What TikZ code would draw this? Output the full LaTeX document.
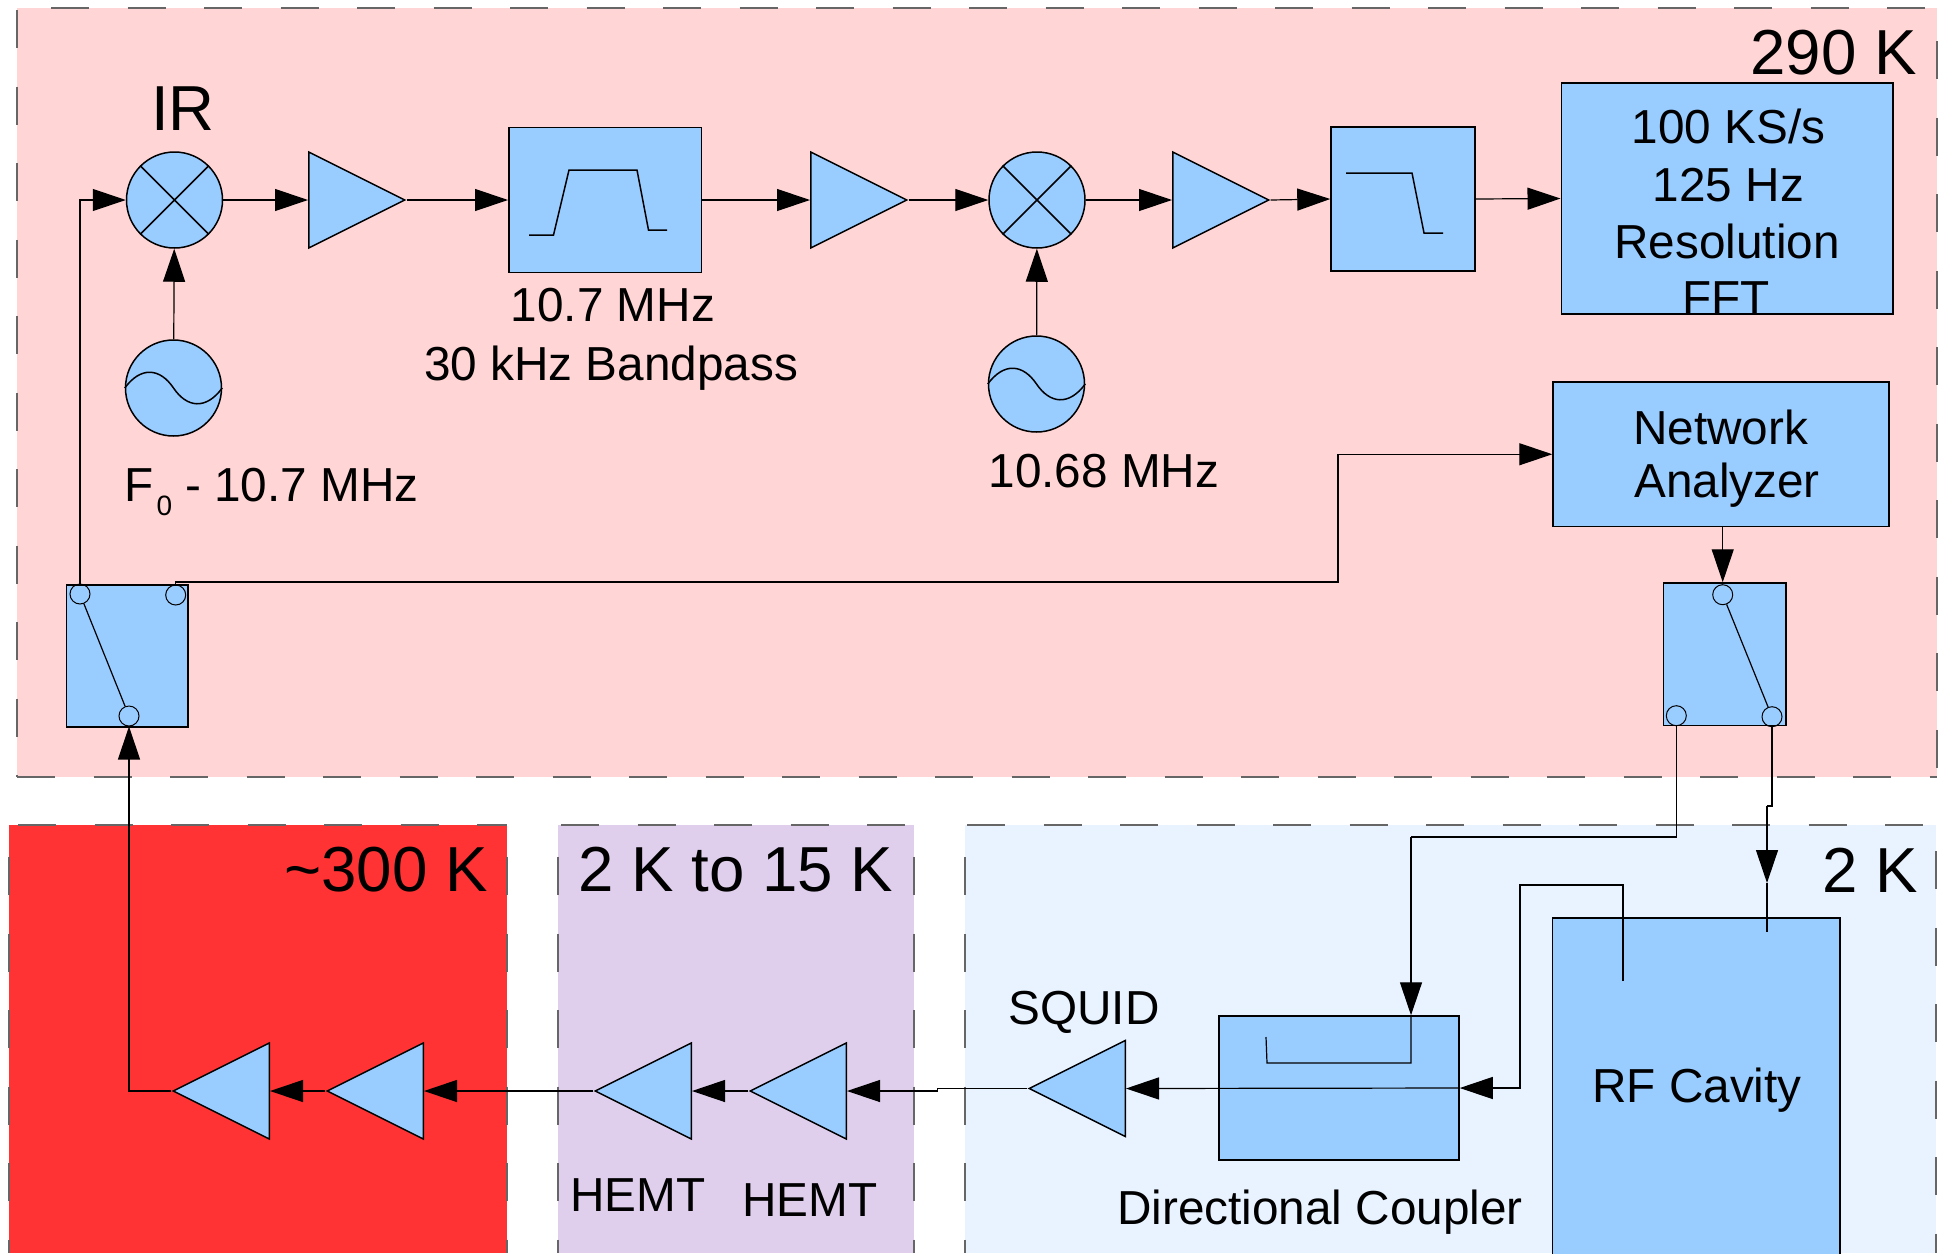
\documentclass[tikz,border=0pt]{standalone}
\usepackage{fontspec}
\setmainfont{Liberation Sans}
\usetikzlibrary{arrows.meta,shapes.geometric}
\definecolor{blockblue}{HTML}{99CCFF}
\definecolor{roomzone}{HTML}{FFD5D5}
\definecolor{hotzone}{HTML}{FF3333}
\definecolor{warmzone}{HTML}{DFCFEC}
\definecolor{coldzone}{HTML}{E9F3FF}
\tikzset{
  zoneline/.style={draw=black!60,line width=0.75pt,dash pattern=on 19pt off 19.25pt},
  block/.style={draw,fill=blockblue,line width=0.75pt,inner sep=0pt},
  mixer/.style={circle,draw,fill=blockblue,line width=0.75pt,inner sep=0pt,minimum size=48pt},
  amp/.style={isosceles triangle,isosceles triangle stretches,draw,fill=blockblue,line width=0.75pt,
    inner sep=0pt,minimum width=48pt,minimum height=48pt,anchor=lower side},
  ampleft/.style={amp,shape border rotate=180},
  pin/.style={circle,draw,line width=0.5pt,inner sep=0pt,minimum size=10pt},
  wire/.style={line width=0.6pt},
  sig/.style={wire,-{Triangle[length=16.5pt,width=11pt]}},
  lbl/.style={font=\fontsize{23.85}{28}\selectfont,inner sep=0pt},
  biglbl/.style={font=\fontsize{31.8}{38}\selectfont,inner sep=0pt}
}
\begin{document}
\begin{tikzpicture}[x=0.5pt,y=-0.5pt]
        \useasboundingbox (0,0) rectangle (1942,1253);
        \clip (0,0) rectangle (1942,1253);

        % temperature zones
        \fill[roomzone] (17,8) rectangle (1937,777);
        \fill[hotzone] (9,825) rectangle (507,1253);
        \fill[warmzone] (558,825) rectangle (914,1253);
        \fill[coldzone] (965,825) rectangle (1936,1253);
        \draw[zoneline] (17,10) -- (17,777) (51,8) -- (1937,8) (17,777) -- (1937,777) (1937,41) -- (1937,777);
        \draw[zoneline] (18,825) -- (507,825) (9,857) -- (9,1253) (507,857) -- (507,1253);
        \draw[zoneline] (558,857) -- (558,1253) (561,825) -- (914,825) (914,857) -- (914,1253);
        \draw[zoneline] (965,857) -- (965,1253) (967,825) -- (1936,825) (1936,851) -- (1936,1253);

        % top chain
        \node[mixer] (mixIR) at (174.5,200) {};
        \node[amp] (ampA) at (308,200) {};
        \node[block,minimum width=96.25pt,minimum height=72.5pt] (bandpass) at (605,200) {};
        \node[amp] (ampB) at (810,200) {};
        \node[mixer] (mixIF) at (1037,200) {};
        \node[amp] (ampC) at (1172,200) {};
        \node[block,minimum width=72pt,minimum height=72pt] (lowpass) at (1403,199) {};
        \node[block,minimum width=165.75pt,minimum height=115.5pt] (fft) at (1727,198.5) {};
        \node[mixer] (oscIR) at (173.5,388) {};
        \node[mixer] (oscIF) at (1036.5,384) {};
        \node[block,minimum width=168pt,minimum height=72.25pt] (netan) at (1721,454.25) {};

        % switches
        \node[block,minimum width=60.75pt,minimum height=71pt] (swA) at (127.25,656) {};
        \node[pin] (swAleft) at (80,594) {};
        \node[pin] (swAright) at (175.7,595) {};
        \node[pin] (swAin) at (129,716) {};
        \node[block,minimum width=61.25pt,minimum height=71.25pt] (swB) at (1724.5,654.25) {};
        \node[pin] (swBin) at (1722.7,594.7) {};
        \node[pin] (swBleft) at (1676.3,715.7) {};
        \node[pin] (swBright) at (1772,716.7) {};

        % bottom chain
        \node[block,minimum width=120pt,minimum height=72pt] (coupler) at (1339,1088) {};
        \node[block,minimum width=143.75pt,minimum height=200pt,anchor=north] (cavity) at (1696.25,917) {};
        \node[ampleft] (squid) at (1126,1088.5) {};
        \node[ampleft] (hemtB) at (847,1091) {};
        \node[ampleft] (hemtA) at (692,1091) {};
        \node[ampleft] (ampE) at (424,1091) {};
        \node[ampleft] (ampD) at (270,1091) {};

        % inside the blocks
        \draw[line width=0.75pt] (mixIR.45) -- (mixIR.225) (mixIR.135) -- (mixIR.315);
        \draw[line width=0.75pt] (mixIF.45) -- (mixIF.225) (mixIF.135) -- (mixIF.315);
        \draw[line width=0.75pt] (oscIR.west) .. controls (141,366) and (160,368) .. (173.5,388) .. controls (187,408) and (206,410) .. (oscIR.east);
        \draw[line width=0.75pt] (oscIF.west) .. controls (1004,362) and (1023,364) .. (1036.5,384) .. controls (1050,404) and (1069,406) .. (oscIF.east);
        \draw[line width=0.75pt] (529,235) -- (553.5,235) -- (569,170) -- (637,170) -- (648.5,230) -- (667,230);
        \draw[line width=0.75pt] (1346,173) -- (1412,173) -- (1424,233) -- (1443,233);
        \draw[wire] (swAleft) -- (swAin);
        \draw[wire] (swBin) -- (swBright);

        % connectors
        \draw[sig] (oscIR) -- (mixIR);
        \draw[sig] (oscIF) -- (mixIF);
        \draw[sig] (swAleft.north) |- (mixIR.west);
        \draw[sig] (mixIR.east) -- (ampA.lower side);
        \draw[sig] (ampA.apex) -- (bandpass.west);
        \draw[sig] (bandpass.east) -- (ampB.lower side);
        \draw[sig] (ampB.apex) -- (mixIF.west);
        \draw[sig] (mixIF.east) -- (ampC.lower side);
        \draw[sig] (ampC.apex) -- (lowpass.west);
        \draw[sig] (lowpass.east) -- (fft.west);
        \coordinate (netjog) at (1338,582);
        \draw[sig] (swAright.north) |- (netjog) |- (netan.west);
        \draw[sig] (netan.south -| swBin) -- (swB.north -| swBin);
        \draw[sig] (ampD.apex) -| (swAin.south);
        \draw[sig] (ampE.apex) -- (ampD.lower side);
        \draw[sig] (hemtA.apex) -- (ampE.lower side);
        \draw[sig] (hemtB.apex) -- (hemtA.lower side);
        \coordinate (squidjog) at (937.5,1091);
        \draw[sig] (squid.apex) -| (squidjog) -- (hemtB.lower side);
        \draw[sig] (coupler.east) -- (squid.lower side);

        \coordinate (feedjog) at (1411,837);
        \draw[wire] (swBleft.south) |- (feedjog);
        \draw[sig] (feedjog) -- (coupler.north -| feedjog);
        \coordinate (hookend) at (1411,1063);
        \coordinate (hooktip) at (1266,1037);
        \draw[wire] (coupler.north -| feedjog) -- (hookend) -- (1267,1063) -- (hooktip);

        \coordinate (probeA) at (1623,981);
        \coordinate (probeB) at (1767,932);
        \coordinate (loopjog) at (1520,885);
        \draw[sig] (probeA) |- (loopjog) |- (coupler.east);
        \coordinate (drivejog) at (1767,806);
        \coordinate (drivein) at (1767,883);
        \draw[wire] (swBright.south) |- (drivejog);
        \draw[sig] (drivejog) -- (drivein);
        \draw[wire] (drivein) -- (probeB);

        % labels
        \node[biglbl,anchor=east] (tempRoom) at (1917,53) {290 K};
        \node[biglbl] (tempHot) at (386,870) {\textasciitilde300 K};
        \node[biglbl] (tempWarm) at (736,870) {2 K to 15 K};
        \node[biglbl] (tempCold) at (1870,870) {2 K};
        \node[biglbl] (labIR) at (183,109) {IR};
        \node[lbl] (labBandA) at (613,305) {10.7 MHz};
        \node[lbl] (labBandB) at (611,368) {30 kHz Bandpass};
        \node[lbl,anchor=base west] (labLO) at (124,501) {F\kern1.5pt\raisebox{-7pt}{\fontsize{14}{14}\selectfont 0} - 10.7 MHz};
        \node[lbl] (labIF) at (1104,471) {10.68 MHz};
        \node[lbl] (labFFTa) at (1728.5,126) {100 KS/s};
        \node[lbl] (labFFTb) at (1728.5,185) {125 Hz};
        \node[lbl] (labFFTc) at (1727,241) {Resolution};
        \node[lbl] (labFFTd) at (1726,298) {FFT};
        \node[lbl] (labNetA) at (1720.5,427) {Network};
        \node[lbl] (labNetB) at (1727,485) {Analyzer};
        \node[lbl] (labCavity) at (1697,1090) {RF Cavity};
        \node[lbl] (labCoupler) at (1320,1212) {Directional Coupler};
        \node[lbl] (labSquid) at (1084,1012) {SQUID};
        \node[lbl] (labHemtA) at (638,1195) {HEMT};
        \node[lbl] (labHemtB) at (810,1200) {HEMT};
\end{tikzpicture}
\end{document}
